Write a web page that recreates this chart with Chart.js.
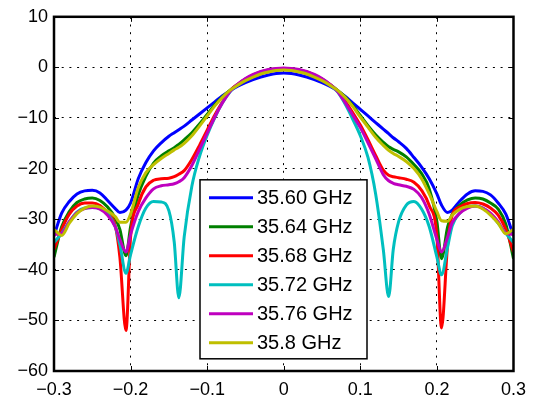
<!DOCTYPE html>
<html>
<head>
<meta charset="utf-8">
<script src="https://cdn.jsdelivr.net/npm/chart.js@4"></script>
<style>
  html, body { margin: 0; padding: 0; background: #fff; }
  #wrap { width: 534px; height: 402px; }
</style>
</head>
<body>
<div id="wrap"><canvas id="pattern_chart"></canvas></div>
<script>
// angle axis (shared by every curve)
const xValues = [-0.30, -0.29, -0.28, -0.27, -0.26, -0.25, -0.24, -0.23, -0.22, -0.214, -0.206, -0.20,
  -0.19, -0.18, -0.17, -0.16, -0.15, -0.143, -0.137, -0.13, -0.12, -0.11, -0.10, -0.09, -0.08, -0.07,
  -0.06, -0.05, -0.04, -0.03, -0.02, -0.01, 0,
  0.01, 0.02, 0.03, 0.04, 0.05, 0.06, 0.07, 0.08, 0.09, 0.10, 0.11, 0.12, 0.13, 0.137, 0.143, 0.15,
  0.16, 0.17, 0.18, 0.19, 0.20, 0.206, 0.214, 0.22, 0.23, 0.24, 0.25, 0.26, 0.27, 0.28, 0.29, 0.30];

const seriesLabels = ['35.60 GHz', '35.64 GHz', '35.68 GHz', '35.72 GHz', '35.76 GHz', '35.8 GHz'];

const f3560 = [-33.3, -28.8, -26.5, -25.0, -24.4, -24.3, -24.8, -26.3, -27.9, -28.7, -28.2, -26.8,
  -22.0, -18.8, -16.5, -14.9, -13.6, -12.9, -12.3, -11.6, -10.4, -9.2, -8.0, -6.8, -5.6, -4.6,
  -3.7, -3.0, -2.4, -1.9, -1.5, -1.2, -1.1,
  -1.2, -1.5, -1.9, -2.4, -3.0, -3.7, -4.6, -5.7, -7.0, -8.3, -9.6, -10.9, -12.2, -13.1, -13.9, -14.7,
  -16.0, -17.8, -19.7, -22.0, -25.0, -27.2, -28.7, -28.2, -26.4, -25.0, -24.4, -24.5, -25.2, -26.8, -29.0, -33.3];

const f3564 = [-37.5, -31.5, -28.5, -26.7, -26.0, -25.8, -26.3, -27.6, -29.8, -32.0, -37.2, -31.5,
  -25.2, -21.5, -18.9, -17.5, -16.5, -15.9, -15.2, -14.3, -12.9, -11.2, -9.3, -7.4, -5.8, -4.5,
  -3.4, -2.5, -1.8, -1.2, -0.8, -0.5, -0.4,
  -0.5, -0.8, -1.2, -1.8, -2.5, -3.4, -4.5, -5.8, -7.5, -9.5, -11.5, -13.3, -14.8, -15.7, -16.2, -16.7,
  -17.7, -19.2, -21.0, -24.0, -30.5, -37.8, -31.5, -29.0, -27.2, -26.2, -25.8, -26.0, -26.8, -28.0, -31.0, -37.8];

const f3568 = [-36.0, -32.0, -29.0, -27.4, -26.8, -26.8, -27.3, -28.8, -31.3, -37.5, -52.0, -33.5,
  -27.0, -23.6, -22.3, -22.0, -21.9, -21.6, -21.1, -20.4, -18.2, -15.4, -12.4, -9.4, -6.8, -4.6,
  -3.3, -2.3, -1.5, -0.9, -0.5, -0.3, -0.2,
  -0.3, -0.5, -0.9, -1.5, -2.3, -3.3, -4.6, -6.6, -8.9, -11.4, -14.3, -17.4, -20.3, -21.3, -21.6, -21.8,
  -22.1, -22.7, -24.3, -27.3, -33.5, -51.5, -35.0, -29.2, -27.6, -26.9, -26.7, -27.0, -27.8, -29.2, -32.0, -36.5];

const f3572 = [-34.6, -32.8, -30.5, -28.6, -27.8, -27.7, -27.9, -28.9, -31.5, -35.0, -40.7, -37.0,
  -31.5, -27.8, -26.5, -26.6, -28.3, -34.5, -45.5, -33.5, -23.5, -17.6, -13.4, -9.9, -7.0, -4.8,
  -3.4, -2.3, -1.5, -0.9, -0.5, -0.3, -0.2,
  -0.3, -0.5, -0.9, -1.5, -2.3, -3.4, -4.8, -7.2, -10.2, -13.5, -17.8, -25.0, -36.0, -45.3, -36.0, -30.5,
  -27.2, -26.5, -28.0, -31.5, -37.5, -41.0, -35.5, -31.3, -28.8, -27.6, -27.4, -27.8, -29.0, -30.8, -32.8, -34.6];

const f3576 = [-33.0, -32.8, -30.5, -28.7, -27.9, -27.7, -28.0, -29.2, -31.5, -34.0, -36.5, -33.0,
  -28.5, -25.8, -24.0, -23.4, -23.2, -23.0, -22.6, -21.8, -19.4, -16.2, -13.0, -9.8, -7.0, -4.7,
  -3.3, -2.2, -1.4, -0.8, -0.4, -0.2, -0.1,
  -0.2, -0.4, -0.8, -1.4, -2.2, -3.3, -4.7, -6.9, -9.4, -11.9, -14.9, -18.0, -21.2, -22.4, -22.9, -23.2,
  -23.5, -24.1, -25.7, -29.0, -34.0, -36.5, -33.5, -30.7, -28.8, -27.8, -27.4, -27.8, -28.8, -30.5, -32.8, -33.0];

const f3580 = [-32.0, -33.2, -30.8, -28.9, -27.8, -27.4, -27.6, -28.4, -29.5, -30.6, -30.6, -29.0,
  -23.8, -20.8, -19.2, -18.0, -17.0, -16.3, -15.8, -15.0, -13.5, -11.6, -9.6, -7.6, -5.9, -4.5,
  -3.5, -2.6, -1.9, -1.3, -0.9, -0.6, -0.5,
  -0.6, -0.9, -1.3, -1.9, -2.6, -3.5, -4.5, -5.9, -7.7, -9.8, -11.8, -13.8, -15.4, -16.4, -17.0, -17.6,
  -18.6, -20.0, -22.0, -25.0, -28.5, -30.3, -30.4, -29.2, -28.0, -27.5, -27.4, -28.0, -29.2, -30.8, -32.9, -32.0];

const xTicks = [-0.3, -0.2, -0.1, 0, 0.1, 0.2, 0.3];
const yTicks = [10, 0, -10, -20, -30, -40, -50, -60];

const allSeries = [f3560, f3564, f3568, f3572, f3576, f3580];
const colors = ['#0000ff', '#008000', '#ff0000', '#00bfbf', '#bf00bf', '#bfbf00'];
const FONT = "'Liberation Sans', Arial, Helvetica, sans-serif";

function fmt(v) {
  const r = Math.round(v * 10) / 10;
  if (r === 0) return '0';
  return String(r).replace('-', '\u2212');
}

// box, inward ticks and legend, like the matlab figure
const framePlugin = {
  id: 'frame',
  afterDraw(chart) {
    const ctx = chart.ctx;
    const a = chart.chartArea;
    const xs = chart.scales.x, ys = chart.scales.y;
    ctx.save();
    ctx.strokeStyle = '#000';
    ctx.lineWidth = 1;
    xTicks.forEach(t => {
      const px = Math.round(xs.getPixelForValue(t)) + 0.5;
      ctx.beginPath();
      ctx.moveTo(px, a.bottom); ctx.lineTo(px, a.bottom - 5);
      ctx.moveTo(px, a.top); ctx.lineTo(px, a.top + 5);
      ctx.stroke();
    });
    yTicks.forEach(t => {
      const py = Math.round(ys.getPixelForValue(t)) + 0.5;
      ctx.beginPath();
      ctx.moveTo(a.left, py); ctx.lineTo(a.left + 5, py);
      ctx.moveTo(a.right, py); ctx.lineTo(a.right - 5, py);
      ctx.stroke();
    });
    ctx.lineWidth = 2.5;
    ctx.strokeRect(a.left, a.top, a.right - a.left, a.bottom - a.top);

    // legend
    const lx = a.left + 146, ly = a.top + 163, lw = 167, lh = 179;
    ctx.fillStyle = '#fff';
    ctx.fillRect(lx, ly, lw, lh);
    ctx.lineWidth = 1.5;
    ctx.strokeRect(lx, ly, lw, lh);
    ctx.font = '20px ' + FONT;
    ctx.textBaseline = 'middle';
    ctx.textAlign = 'left';
    chart.data.datasets.forEach((ds, i) => {
      const ry = ly + 18 + i * 29;
      ctx.strokeStyle = ds.borderColor;
      ctx.lineWidth = 3;
      ctx.beginPath();
      ctx.moveTo(lx + 9, ry); ctx.lineTo(lx + 53, ry);
      ctx.stroke();
      ctx.fillStyle = '#000';
      ctx.fillText(ds.label, lx + 57, ry + 1);
    });
    ctx.restore();
  }
};

const datasets = allSeries.map((ys, i) => ({
  label: seriesLabels[i],
  data: ys.map((y, j) => ({ x: xValues[j], y: y })),
  borderColor: colors[i],
  backgroundColor: colors[i],
  borderWidth: 3,
  pointRadius: 0,
  fill: false,
  cubicInterpolationMode: 'monotone',
  order: allSeries.length - i
}));

new Chart(document.getElementById('pattern_chart'), {
  type: 'line',
  data: { datasets: datasets },
  options: {
    responsive: true,
    maintainAspectRatio: false,
    animation: false,
    layout: { padding: { top: 12, right: 20, left: 0, bottom: 0 } },
    plugins: {
      legend: { display: false },
      tooltip: { enabled: false }
    },
    scales: {
      x: {
        type: 'linear',
        min: -0.3,
        max: 0.3,
        afterBuildTicks(scale) { scale.ticks = xTicks.map(v => ({ value: v })); },
        afterFit(scale) { scale.height = 31; },
        ticks: { callback: fmt, color: '#000', font: { size: 18, family: FONT }, padding: 8, maxRotation: 0 },
        grid: { color: '#000', lineWidth: 1, drawTicks: false },
        border: { display: false, dash: [2, 5.7] }
      },
      y: {
        min: -60,
        max: 10,
        afterBuildTicks(scale) { scale.ticks = yTicks.map(v => ({ value: v })); },
        afterFit(scale) { scale.width = 54; },
        ticks: { callback: fmt, color: '#000', font: { size: 18, family: FONT }, padding: 6 },
        grid: { color: '#000', lineWidth: 1, drawTicks: false },
        border: { display: false, dash: [2, 5.7] }
      }
    }
  },
  plugins: [framePlugin]
});
</script>
</body>
</html>
